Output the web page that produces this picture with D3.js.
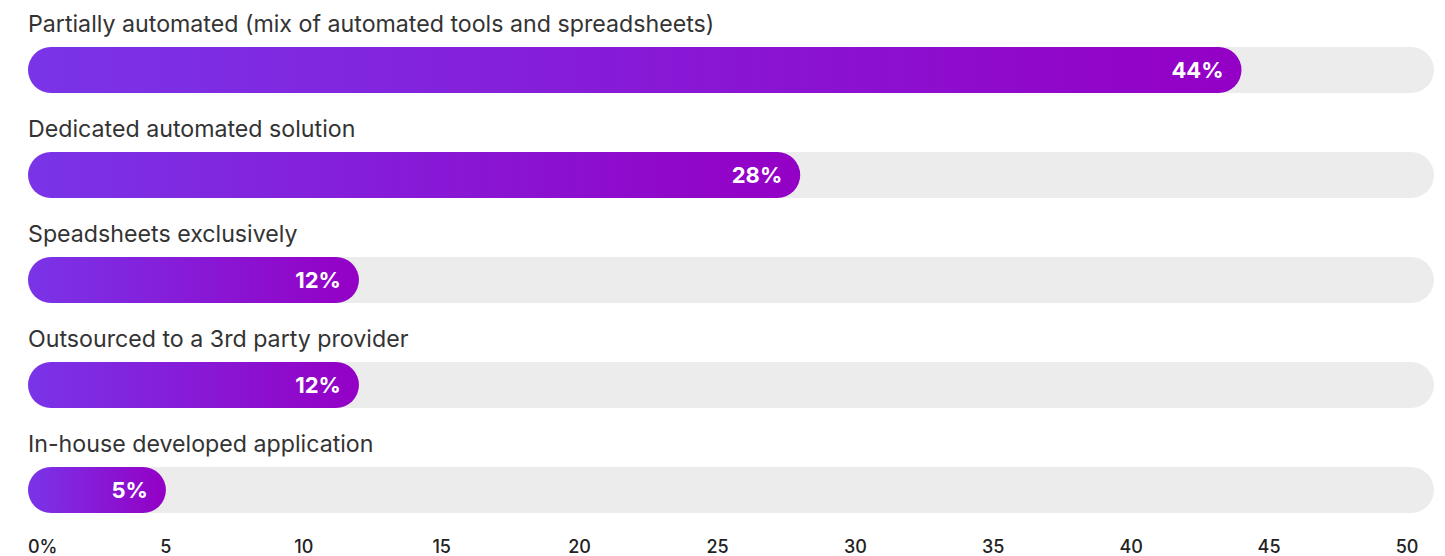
<!DOCTYPE html>
<html>
<head>
<meta charset="utf-8">
<script src="https://cdn.jsdelivr.net/npm/d3@7"></script>
<style>
  html, body { margin: 0; padding: 0; background: #fff; }
  svg { display: block; }
  text { font-family: Inter, "Noto Sans", sans-serif; }
</style>
</head>
<body>
<svg id="chart" width="1445" height="556"></svg>
<script>
// Survey responses: how the process is handled
const categories = [
  "Partially automated (mix of automated tools and spreadsheets)",
  "Dedicated automated solution",
  "Speadsheets exclusively",
  "Outsourced to a 3rd party provider",
  "In-house developed application"
];
const values = [44, 28, 12, 12, 5];
const tickValues = [0, 5, 10, 15, 20, 25, 30, 35, 40, 45, 50];
const tickLabels = ["0%", "5", "10", "15", "20", "25", "30", "35", "40", "45", "50"];

const width = 1445, height = 556;
const left = 28, right = 1434;
const barH = 46;

const svg = d3.select("#chart");

const defs = svg.append("defs");
const grad = defs.append("linearGradient")
  .attr("id", "barGrad")
  .attr("x1", "0%").attr("x2", "100%").attr("y1", "0%").attr("y2", "0%");
grad.append("stop").attr("offset", "0%").attr("stop-color", "#7a34e8");
grad.append("stop").attr("offset", "100%").attr("stop-color", "#9400c5");

const x = d3.scaleLinear().domain([0, 50]).range([left, 1407]);
const y = d3.scaleBand().domain(categories).range([47, 572]).paddingInner(0).paddingOuter(0);

const rows = svg.append("g").selectAll("g.row")
  .data(categories.map((c, i) => ({ c, v: values[i] })))
  .join("g")
  .attr("class", "row")
  .attr("transform", d => `translate(0,${y(d.c)})`);

// category label above each track
rows.append("text")
  .attr("x", left)
  .attr("y", -15)
  .attr("font-size", 23.2)
  .attr("font-weight", 400)
  .attr("fill", "#333")
  .text(d => d.c);

// full-width grey track
rows.append("rect")
  .attr("x", left)
  .attr("y", 0)
  .attr("width", right - left)
  .attr("height", barH)
  .attr("rx", barH / 2)
  .attr("fill", "#ececec");

// value bar
rows.append("rect")
  .attr("x", left)
  .attr("y", 0)
  .attr("width", d => x(d.v) - left)
  .attr("height", barH)
  .attr("rx", barH / 2)
  .attr("fill", "url(#barGrad)");

// value label inside the bar end
rows.append("text")
  .attr("x", d => x(d.v) - 18)
  .attr("y", barH / 2)
  .attr("dy", "0.36em")
  .attr("text-anchor", "end")
  .attr("font-size", 22)
  .attr("font-weight", 700)
  .attr("fill", "#fff")
  .text(d => d.v + "%");

// axis labels on the same scale as the bars
svg.append("g").selectAll("text")
  .data(tickValues)
  .join("text")
  .attr("x", d => x(d))
  .attr("y", 547)
  .attr("dy", "0.36em")
  .attr("text-anchor", (d, i) => i === 0 ? "start" : "middle")
  .attr("font-size", 18)
  .attr("font-weight", 500)
  .attr("fill", "#222")
  .text((d, i) => tickLabels[i]);
</script>
</body>
</html>
